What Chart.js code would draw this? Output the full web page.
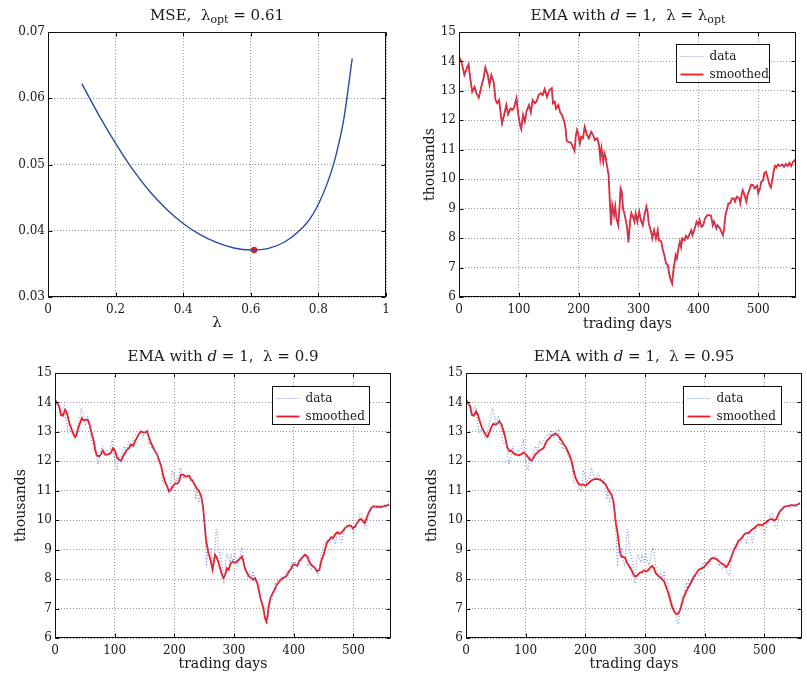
<!DOCTYPE html>
<html>
<head>
<meta charset="utf-8">
<script src="https://cdn.jsdelivr.net/npm/chart.js@4/dist/chart.umd.min.js"></script>
<style>
  html, body { margin: 0; padding: 0; background: #fff; }
  #wrap { position: relative; width: 807px; height: 677px; overflow: hidden; font-family: "DejaVu Serif", serif; color: #1a1a1a; }
  canvas { position: absolute; }
  .ttl { position: absolute; font-size: 15px; line-height: 1; white-space: nowrap; transform: translateX(-50%); }
  .ttl sub { font-size: 11px; vertical-align: -3px; line-height: 0; }
</style>
</head>
<body>
<div id="wrap">
  <canvas id="mseChart"  width="403" height="338" style="left:0;top:0;width:403px;height:338px"></canvas>
  <canvas id="optChart"  width="404" height="338" style="left:403px;top:0;width:404px;height:338px"></canvas>
  <canvas id="ema90Chart" width="403" height="339" style="left:0;top:338px;width:403px;height:339px"></canvas>
  <canvas id="ema95Chart" width="404" height="339" style="left:403px;top:338px;width:404px;height:339px"></canvas>

  <div class="ttl" style="left:217px;top:8px">MSE,&nbsp; λ<sub>opt</sub> = 0.61</div>
  <div class="ttl" style="left:628px;top:8px">EMA with <i>d</i> = 1,&nbsp; λ = λ<sub>opt</sub></div>
  <div class="ttl" style="left:223px;top:349px">EMA with <i>d</i> = 1,&nbsp; λ = 0.9</div>
  <div class="ttl" style="left:634px;top:349px">EMA with <i>d</i> = 1,&nbsp; λ = 0.95</div>
</div>

<script>
// ---- MSE of the one-step EMA forecast versus the smoothing parameter ----
const lambdas = [0.10, 0.15, 0.20, 0.25, 0.30, 0.35, 0.40, 0.45, 0.50, 0.55, 0.60,
                 0.65, 0.70, 0.75, 0.775, 0.80, 0.825, 0.85, 0.875, 0.90];
const mse     = [0.0622, 0.0575, 0.0532, 0.0493, 0.0460, 0.0433, 0.0411, 0.0394, 0.0382, 0.0374, 0.0371,
                 0.0373, 0.0383, 0.0403, 0.0418, 0.0440, 0.0470, 0.0510, 0.0568, 0.0660];
const lambdaOpt = 0.61;
const mseOpt    = 0.0371;

// ---- closing prices (thousands) as [trading day, value] ----
const closes = [
  [0,14.15],[4,14.0],[9,13.54],[13,13.77],[16,13.9],[18,13.54],[22,12.97],[26,13.14],[29,12.92],[33,12.77],
  [38,13.2],[41,13.43],[44,13.8],[48,13.54],[51,13.2],[54,13.54],[58,13.3],[61,12.69],[64,12.58],[67,12.69],
  [70,12.18],[72,11.89],[76,12.24],[79,12.52],[82,12.2],[86,12.4],[89,12.35],[92,12.43],[96,12.75],[99,12.2],
  [102,11.84],[104,11.7],[107,12.18],[110,11.95],[113,12.32],[117,12.52],[120,12.27],[123,12.69],[127,12.58],[130,12.66],
  [133,12.86],[137,12.92],[140,12.86],[143,13.06],[147,12.8],[151,13.03],[155,13.09],[157,12.58],[160,12.63],[162,12.4],
  [166,12.52],[169,12.27],[172,12.18],[176,11.95],[178,11.73],[180,11.3],[184,11.25],[187,11.25],[190,11.1],[193,10.96],
  [195,11.44],[197,11.67],[199,11.56],[202,11.22],[204,11.44],[207,11.39],[210,11.78],[214,11.5],[217,11.39],[221,11.61],
  [224,11.5],[227,11.33],[231,11.39],[234,11.16],[236,10.71],[238,11.05],[241,10.59],[243,10.88],[245,10.76],[247,10.48],
  [250,10.14],[252,9.24],[254,8.44],[256,9.12],[259,8.78],[261,9.07],[263,8.67],[266,8.44],[268,9.0],[270,9.69],
  [272,9.58],[274,9.0],[277,8.78],[279,8.56],[281,8.33],[283,7.85],[286,8.6],[288,8.85],[291,8.7],[293,8.56],
  [295,8.84],[298,8.56],[301,8.9],[304,8.61],[307,8.44],[311,8.9],[313,9.07],[315,8.9],[317,8.5],[321,8.22],
  [323,7.99],[326,8.27],[329,7.99],[332,8.27],[334,7.93],[338,7.88],[340,7.65],[343,7.42],[346,7.14],[349,7.08],
  [351,6.8],[353,6.63],[356,6.46],[358,6.86],[360,7.14],[362,7.42],[364,7.31],[367,7.7],[369,7.88],[371,7.7],
  [373,7.99],[377,7.93],[379,8.08],[382,7.99],[385,8.13],[388,8.27],[390,8.1],[393,8.27],[397,8.56],[400,8.44],
  [402,8.61],[405,8.39],[408,8.44],[411,8.67],[415,8.78],[418,8.78],[421,8.76],[424,8.44],[426,8.56],[430,8.33],
  [432,8.44],[436,8.33],[439,8.19],[441,8.1],[443,8.33],[445,8.78],[448,9.0],[450,9.18],[453,9.18],[456,9.35],
  [459,9.35],[461,9.24],[464,9.41],[468,9.35],[470,9.18],[472,9.46],[474,9.63],[477,9.46],[480,9.24],[482,9.46],
  [486,9.69],[488,9.82],[491,9.8],[494,9.69],[498,9.78],[500,9.52],[503,9.69],[505,9.92],[508,9.95],[510,10.2],
  [513,10.25],[515,10.1],[517,9.95],[519,9.8],[521,9.72],[524,10.05],[526,10.3],[528,10.45],[530,10.4],[533,10.5],
  [536,10.45],[540,10.5],[543,10.42],[546,10.52],[549,10.45],[552,10.55],[555,10.45],[558,10.6],[560,10.62],[562,10.68]
];

// ---- smoothed series, lambda = 0.9 ----
const ema90 = [
  [0,14.09],[3,13.98],[7,13.87],[10,13.58],[13,13.55],[17,13.75],[20,13.64],[24,13.3],[27,13.13],[30,12.96],
  [34,12.83],[36,12.9],[39,13.13],[43,13.36],[45,13.47],[48,13.39],[51,13.41],[55,13.41],[58,13.24],[62,12.9],
  [65,12.68],[67,12.42],[70,12.2],[74,12.17],[77,12.23],[80,12.37],[84,12.23],[87,12.23],[91,12.25],[94,12.3],
  [97,12.45],[101,12.34],[104,12.11],[107,12.06],[111,12.02],[114,12.17],[117,12.28],[121,12.4],[124,12.45],[127,12.57],
  [131,12.53],[134,12.68],[137,12.79],[141,12.94],[144,13.02],[148,12.98],[151,12.98],[154,13.02],[158,12.79],[161,12.62],
  [164,12.49],[168,12.34],[171,12.23],[174,12.06],[178,11.83],[181,11.55],[184,11.32],[188,11.15],[191,10.98],[194,11.04],
  [198,11.17],[201,11.24],[205,11.24],[208,11.32],[211,11.55],[215,11.55],[218,11.49],[221,11.49],[225,11.51],[228,11.38],
  [231,11.32],[235,11.17],[238,11.06],[241,11.01],[245,10.81],[248,10.47],[250,10.02],[253,9.34],[255,9.11],[257,8.88],
  [259,8.77],[262,8.52],[264,8.32],[266,8.55],[268,8.83],[270,8.77],[272,8.68],[275,8.49],[279,8.2],[282,8.04],
  [284,8.09],[286,8.2],[288,8.37],[291,8.32],[294,8.52],[298,8.6],[301,8.55],[305,8.6],[308,8.66],[311,8.71],
  [313,8.77],[315,8.66],[318,8.37],[322,8.2],[325,8.09],[329,8.04],[332,7.98],[335,8.04],[339,7.87],[342,7.58],
  [345,7.3],[349,7.02],[352,6.68],[354,6.56],[356,6.73],[358,7.07],[361,7.36],[365,7.53],[368,7.64],[372,7.81],
  [375,7.89],[378,7.98],[382,8.04],[386,8.07],[389,8.15],[392,8.26],[396,8.37],[399,8.49],[402,8.49],[406,8.45],
  [409,8.6],[412,8.68],[416,8.77],[419,8.83],[423,8.77],[426,8.6],[429,8.49],[433,8.43],[436,8.37],[439,8.26],
  [443,8.32],[446,8.6],[450,8.83],[453,9.05],[456,9.25],[460,9.34],[463,9.43],[466,9.39],[469,9.51],[473,9.59],
  [476,9.54],[479,9.56],[483,9.65],[486,9.73],[489,9.79],[493,9.82],[496,9.81],[499,9.73],[503,9.79],[506,9.9],
  [510,10.02],[513,10.04],[516,9.96],[519,9.9],[522,10.07],[526,10.27],[530,10.41],[533,10.47],[536,10.47],[540,10.45],
  [543,10.47],[546,10.44],[550,10.47],[554,10.49],[557,10.5],[560,10.53]
];

// ---- smoothed series, lambda = 0.95 ----
const ema95 = [
  [0,14.12],[3,13.98],[7,13.87],[10,13.58],[13,13.55],[17,13.7],[20,13.58],[24,13.3],[27,13.13],[30,13.02],
  [34,12.87],[36,12.83],[39,12.98],[43,13.19],[46,13.28],[49,13.24],[53,13.28],[56,13.36],[59,13.28],[63,13.02],
  [66,12.79],[69,12.49],[73,12.34],[76,12.37],[79,12.28],[83,12.23],[86,12.23],[89,12.2],[93,12.25],[96,12.3],
  [99,12.26],[103,12.17],[106,12.08],[110,12.03],[113,12.11],[116,12.23],[120,12.3],[123,12.37],[126,12.4],[130,12.45],
  [133,12.6],[136,12.71],[140,12.79],[143,12.87],[146,12.9],[150,12.94],[153,12.9],[156,12.83],[160,12.71],[163,12.6],
  [167,12.49],[170,12.37],[173,12.23],[177,12.0],[180,11.72],[183,11.47],[187,11.29],[190,11.21],[193,11.21],[197,11.21],
  [200,11.17],[203,11.21],[207,11.29],[210,11.35],[213,11.38],[217,11.4],[220,11.4],[224,11.38],[227,11.35],[230,11.29],
  [234,11.21],[237,11.09],[240,10.98],[244,10.87],[247,10.64],[249,10.3],[251,9.9],[254,9.56],[256,9.22],[258,8.94],
  [260,8.77],[264,8.75],[267,8.71],[270,8.54],[274,8.42],[278,8.28],[282,8.1],[285,8.09],[288,8.15],[292,8.23],
  [295,8.23],[298,8.3],[302,8.26],[305,8.3],[308,8.37],[312,8.45],[315,8.37],[318,8.2],[322,8.11],[325,8.07],
  [329,7.98],[332,7.92],[335,7.75],[339,7.53],[342,7.3],[345,7.07],[349,6.9],[352,6.82],[355,6.82],[359,6.96],
  [362,7.19],[365,7.39],[369,7.58],[372,7.7],[375,7.81],[379,7.96],[382,8.09],[386,8.2],[389,8.3],[392,8.34],
  [396,8.37],[399,8.41],[402,8.49],[406,8.57],[409,8.66],[412,8.71],[416,8.71],[419,8.68],[422,8.64],[426,8.57],
  [429,8.52],[432,8.49],[436,8.41],[439,8.49],[443,8.66],[446,8.83],[449,9.0],[453,9.13],[456,9.28],[460,9.36],
  [463,9.43],[466,9.51],[469,9.56],[473,9.56],[476,9.62],[479,9.68],[483,9.73],[486,9.79],[489,9.84],[493,9.85],
  [496,9.82],[499,9.88],[503,9.93],[506,9.99],[510,10.04],[513,10.04],[516,9.99],[520,10.04],[523,10.19],[526,10.3],
  [530,10.38],[533,10.45],[536,10.47],[540,10.49],[543,10.5],[546,10.52],[550,10.5],[554,10.52],[557,10.55],[560,10.56]
];

// ---- axis ticks ----
const lambdaTicks = [0, 0.2, 0.4, 0.6, 0.8, 1];
const mseTicks    = [0.03, 0.04, 0.05, 0.06, 0.07];
const dayTicks    = [0, 100, 200, 300, 400, 500];
const priceTicks  = [6, 7, 8, 9, 10, 11, 12, 13, 14, 15];
const lastDay = 563;

const toXY = pairs => pairs.map(([x, y]) => ({ x, y }));

Chart.defaults.font.family = '"DejaVu Serif", serif';
Chart.defaults.font.size = 12;
Chart.defaults.color = '#1a1a1a';
Chart.defaults.animation = false;

const RED = '#ec1c24';
const DOT_BLUE = '#6b7bd4';
const LINE_BLUE = '#2c4aa3';

// Boxed axes with inward tick marks on all four sides, plus an in-plot legend box.
const frame = {
  id: 'frame',
  afterDraw(chart, args, opts) {
    const { ctx, chartArea: a, scales: { x, y } } = chart;
    const L = Math.round(a.left) + 0.5, R = Math.round(a.right) - 0.5;
    const T = Math.round(a.top) + 0.5,  B = Math.round(a.bottom) - 0.5;
    ctx.save();
    ctx.strokeStyle = '#111';
    ctx.lineWidth = 1;
    ctx.setLineDash([]);
    ctx.strokeRect(L, T, R - L, B - T);
    const tk = 4;
    ctx.beginPath();
    x.ticks.forEach(t => {
      const px = Math.round(x.getPixelForValue(t.value)) + 0.5;
      ctx.moveTo(px, B); ctx.lineTo(px, B - tk);
      ctx.moveTo(px, T); ctx.lineTo(px, T + tk);
    });
    y.ticks.forEach(t => {
      const py = Math.round(y.getPixelForValue(t.value)) + 0.5;
      ctx.moveTo(L, py); ctx.lineTo(L + tk, py);
      ctx.moveTo(R, py); ctx.lineTo(R - tk, py);
    });
    ctx.stroke();

    const lg = opts.legend;
    if (lg) {
      const bx = Math.round(a.right - lg.right - lg.w) + 0.5;
      const by = Math.round(a.top + lg.top) + 0.5;
      ctx.fillStyle = '#fff';
      ctx.fillRect(bx, by, lg.w, lg.h);
      ctx.strokeStyle = '#111';
      ctx.lineWidth = 1;
      ctx.strokeRect(bx, by, lg.w, lg.h);
      chart.data.datasets.forEach((ds, i) => {
        const cy = Math.round(by + 11 + i * 18) + 0.5;
        ctx.beginPath();
        ctx.setLineDash(ds.borderDash || []);
        ctx.strokeStyle = ds.borderColor;
        ctx.lineWidth = ds.borderWidth;
        ctx.moveTo(bx + 4, cy);
        ctx.lineTo(bx + 27, cy);
        ctx.stroke();
        ctx.setLineDash([]);
        ctx.fillStyle = '#1a1a1a';
        ctx.font = '12px "DejaVu Serif", serif';
        ctx.textBaseline = 'middle';
        ctx.textAlign = 'left';
        ctx.fillText(ds.label, bx + 33, cy);
      });
    }
    ctx.restore();
  }
};

const gridStyle = { color: '#9a9a9a', lineWidth: 1, drawTicks: false };
const gridBorder = { display: false, dash: [1, 2] };
const fixedTicks = list => scale => { scale.ticks = list.map(v => ({ value: v })); };

// ---- panel 1: MSE curve ----
new Chart(document.getElementById('mseChart'), {
  type: 'line',
  data: {
    datasets: [
      {
        data: lambdas.map((l, i) => ({ x: l, y: mse[i] })),
        borderColor: LINE_BLUE, borderWidth: 1.4, pointRadius: 0,
        cubicInterpolationMode: 'monotone', fill: false
      },
      {
        data: [{ x: lambdaOpt, y: mseOpt }],
        showLine: false, pointRadius: 3.2, pointBackgroundColor: RED, pointBorderWidth: 0
      }
    ]
  },
  options: {
    responsive: false,
    layout: { padding: { top: 32, right: 17, left: 0, bottom: 0 } },
    plugins: { legend: { display: false }, tooltip: { enabled: false }, frame: {} },
    scales: {
      x: {
        type: 'linear', min: 0, max: 1,
        afterBuildTicks: fixedTicks(lambdaTicks),
        afterFit: s => { s.height = 41; },
        grid: gridStyle, border: gridBorder,
        ticks: { padding: 6, maxRotation: 0, autoSkip: false,
                 callback: v => (v === 0 || v === 1) ? String(v) : v.toFixed(1) },
        title: { display: true, text: 'λ', font: { size: 15 }, padding: { top: 0, bottom: 6 } }
      },
      y: {
        type: 'linear', min: 0.03, max: 0.07,
        afterBuildTicks: fixedTicks(mseTicks),
        afterFit: s => { s.width = 48; },
        grid: gridStyle, border: gridBorder,
        ticks: { padding: 3, autoSkip: false, callback: v => v.toFixed(2) }
      }
    }
  },
  plugins: [frame]
});

// ---- stock panels ----
function stockPanel(id, smoothed, lay) {
  return new Chart(document.getElementById(id), {
    type: 'line',
    data: {
      datasets: [
        { label: 'data', data: toXY(closes), borderColor: DOT_BLUE, borderWidth: 1,
          borderDash: [1, 2], pointRadius: 0, tension: 0, fill: false },
        { label: 'smoothed', data: toXY(smoothed), borderColor: RED, borderWidth: 1.8,
          pointRadius: 0, tension: 0, fill: false }
      ]
    },
    options: {
      responsive: false,
      layout: { padding: { top: lay.top, right: lay.right, left: 0, bottom: 0 } },
      plugins: { legend: { display: false }, tooltip: { enabled: false },
                 frame: { legend: lay.legend } },
      scales: {
        x: {
          type: 'linear', min: 0, max: lastDay,
          afterBuildTicks: fixedTicks(dayTicks),
          afterFit: s => { s.height = lay.xh; },
          grid: gridStyle, border: gridBorder,
          ticks: { padding: 6, maxRotation: 0, autoSkip: false },
          title: { display: true, text: 'trading days', font: { size: 14 },
                   padding: { top: 0, bottom: lay.xtPad } }
        },
        y: {
          type: 'linear', min: 6, max: 15,
          afterBuildTicks: fixedTicks(priceTicks),
          afterFit: s => { s.width = lay.yw; },
          grid: gridStyle, border: gridBorder,
          ticks: { padding: 3, autoSkip: false },
          title: { display: true, text: 'thousands', font: { size: 14 },
                   padding: { top: lay.ytPad, bottom: 0 } }
        }
      }
    },
    plugins: [frame]
  });
}

// at the optimal lambda the smoothed curve lies on the data itself
stockPanel('optChart', closes, {
  top: 32, right: 11, xh: 41, yw: 56, xtPad: 5, ytPad: 19,
  legend: { right: 27, top: 12, w: 93, h: 38 }
});
stockPanel('ema90Chart', ema90, {
  top: 35, right: 12, xh: 39, yw: 55, xtPad: 4, ytPad: 13,
  legend: { right: 22, top: 13, w: 97, h: 38 }
});
stockPanel('ema95Chart', ema95, {
  top: 35, right: 5, xh: 39, yw: 63, xtPad: 4, ytPad: 21,
  legend: { right: 21, top: 13, w: 98, h: 38 }
});
</script>
</body>
</html>
